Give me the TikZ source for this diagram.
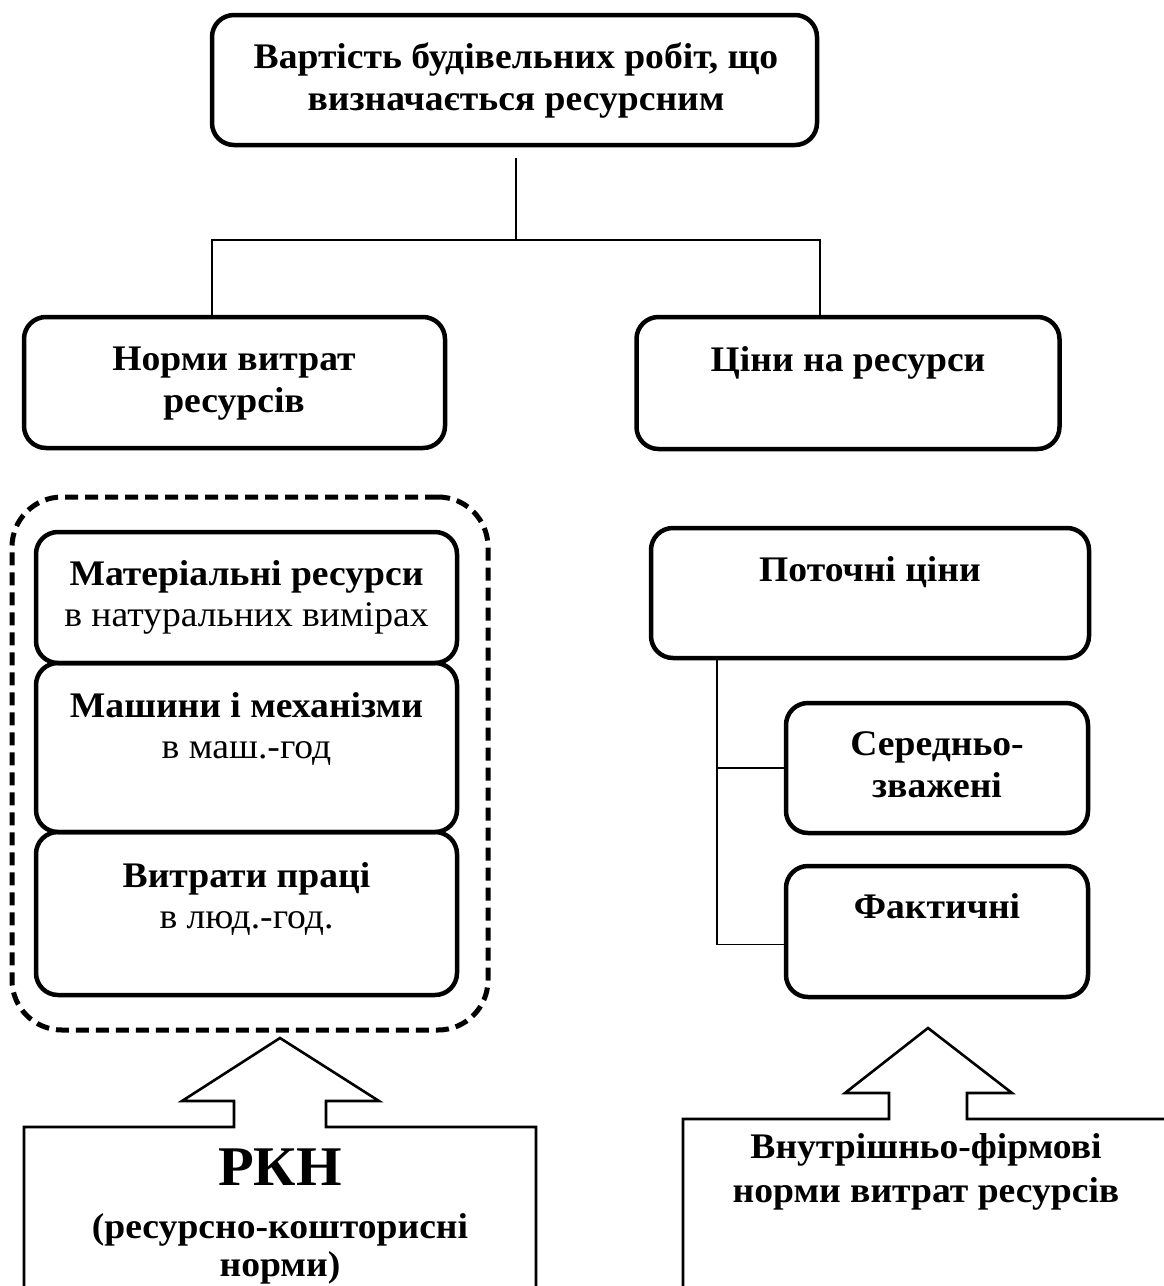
\documentclass[tikz,border=0pt]{standalone}
\usepackage{fontspec}
\setmainfont[FakeStretch=1.045]{Liberation Serif}
\usetikzlibrary{calc}
% centred multi-line label whose baseline is the first line
\newcommand\mlines[1]{\begin{tabular}[t]{@{}c@{}}#1\end{tabular}}

\begin{document}
\begin{tikzpicture}[x=1pt,y=-1pt,
  rbox/.style 2 args={draw, line width=4.5pt, rounded corners=22pt, inner sep=0pt,
    minimum width=#1pt, minimum height=#2pt},
  lbl/.style={anchor=base, inner sep=0pt, font=\fontsize{36}{42}\selectfont\bfseries},
  sublbl/.style={anchor=base, inner sep=0pt, font=\fontsize{36}{41}\selectfont},
  link/.style={line width=1.6pt},
  blockarrow/.style={line width=2.6pt, line join=miter}
]
\clip (0,0) rectangle (1164,1286);
\fill[white] (0,0) rectangle (1164,1286);

% top level
\node[rbox={605}{130}] (cost) at (514.5,80) {};
\node[lbl] (costT) at (516,68) {\mlines{Вартість будівельних робіт, що\\визначається ресурсним}};

% second level
\node[rbox={421}{131}] (norms) at (234.5,382.5) {};
\node[lbl] (normsT) at (234,370) {\mlines{Норми витрат\\ресурсів}};
\node[rbox={423}{132}] (prices) at (848,383) {};
\node[lbl] (pricesT) at (848,371) {Ціни на ресурси};

% tree from the top box
\coordinate (split) at (516,240);
\draw[link] ([yshift=-11pt]cost.south -| split) -- (split);
\draw[link] (split) -| (212,240) -- (norms.north -| 212,0);
\draw[link] (split) -- (820,240) -- (prices.north -| 820,0);

% resource groups (dashed frame)
\node[draw, line width=5pt, dash pattern=on 13pt off 7pt, rounded corners=50pt,
  minimum width=476pt, minimum height=533pt, inner sep=0pt] (group) at (250,763.5) {};
\node[rbox={421}{131}] (mat) at (246.5,597.5) {};
\node[sublbl] (matT) at (246.5,585) {\mlines{\textbf{Матеріальні ресурси}\\в натуральних вимірах}};
\node[rbox={421}{169}] (mach) at (246.5,747.5) {};
\node[sublbl] (machT) at (246.5,717) {\mlines{\textbf{Машини і механізми}\\в маш.-год}};
\node[rbox={421}{163}] (lab) at (246.5,913.5) {};
\node[sublbl] (labT) at (246.5,887) {\mlines{\textbf{Витрати праці}\\в люд.-год.}};

% price kinds
\node[rbox={438}{130}] (cur) at (870,593) {};
\node[lbl] (curT) at (870,581) {Поточні ціни};
\node[rbox={302}{130}] (avg) at (937,768) {};
\node[lbl] (avgT) at (937,755) {\mlines{Середньо-\\зважені}};
\node[rbox={302}{131}] (act) at (937,931.5) {};
\node[lbl] (actT) at (937,918) {Фактичні};

\coordinate (trunk) at (cur.south -| 717,0);
\draw[link] (trunk) |- (avg.west);
\draw[link] (trunk) |- ([yshift=-13pt]act.west);

% sources of the norms, with block arrows
\draw[blockarrow] (24,1300) -- (24,1127) -- (234,1127) -- (234,1101) -- (182,1101)
  -- (280,1038) -- (379,1101) -- (326,1101) -- (326,1127) -- (536,1127) -- (536,1300);
\node[anchor=base, inner sep=0pt, font=\fontsize{56}{60}\selectfont\bfseries] (rkn) at (280,1185) {РКН};
\node[anchor=base, inner sep=0pt, font=\fontsize{36}{38}\selectfont\bfseries] (rknT) at (280,1238)
  {\mlines{(ресурсно-кошторисні\\норми)}};

\draw[blockarrow] (683,1300) -- (683,1119) -- (889,1119) -- (889,1093) -- (845,1093)
  -- (928,1028) -- (1012,1093) -- (967,1093) -- (967,1119) -- (1170,1119);
\node[anchor=base, inner sep=0pt, font=\fontsize{36}{44}\selectfont\bfseries] (firm) at (926,1158)
  {\mlines{Внутрішньо-фірмові\\норми витрат ресурсів}};
\end{tikzpicture}
\end{document}
